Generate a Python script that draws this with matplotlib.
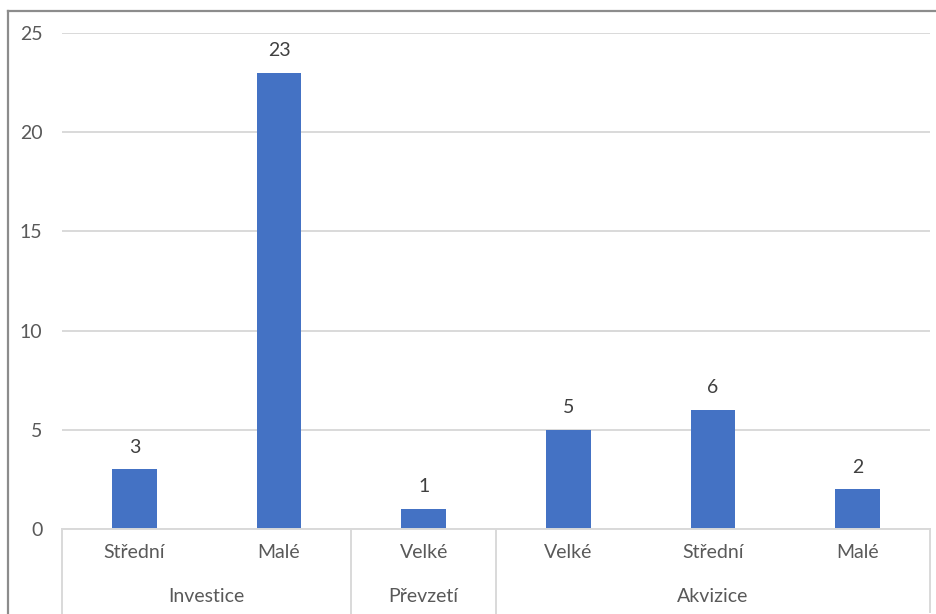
import matplotlib
matplotlib.use("Agg")
import matplotlib.pyplot as plt
import matplotlib.transforms as mtransforms
from matplotlib.lines import Line2D
import numpy as np

# Bar values, inner (size) labels and outer (group) labels
sizes = ["Střední", "Malé", "Velké", "Velké", "Střední", "Malé"]
counts = [3, 23, 1, 5, 6, 2]
groups = ["Investice", "Převzetí", "Akvizice"]
group_len = [2, 1, 3]
yticks = [0, 5, 10, 15, 20, 25]

BLUE = "#4472C4"
GRID = "#D9D9D9"
TEXT = "#595959"
LABEL = "#404040"

plt.rcParams["font.family"] = ["Lato", "DejaVu Sans"]

W, H = 937, 614
fig = plt.figure(figsize=(W / 100, H / 100), dpi=100)
fig.patch.set_facecolor("white")

left, right, top, bottom = 62, 930, 33, 529
ax = fig.add_axes([left / W, 1 - bottom / H, (right - left) / W, (bottom - top) / H])

x = np.arange(len(counts))
bars = ax.bar(x, counts, width=0.31, color=BLUE, zorder=3)

for b, v in zip(bars, counts):
    ax.annotate(str(v), (b.get_x() + b.get_width() / 2, v), xytext=(0, 16),
                textcoords="offset points", ha="center", va="center",
                fontsize=14, color=LABEL)

ax.set_xlim(-0.5, len(counts) - 0.5)
ax.set_ylim(0, 25)
ax.set_yticks(yticks)
ax.set_yticklabels([str(t) for t in yticks], fontsize=14, color=TEXT)
ax.tick_params(axis="y", length=0, pad=14)
ax.set_xticks([])
ax.grid(axis="y", color=GRID, linewidth=1.4, zorder=0)
for s in ax.spines.values():
    s.set_visible(False)

# multi-level category axis drawn below the plot area
trans = mtransforms.blended_transform_factory(ax.transData, ax.transAxes)
ax_h = bottom - top
y_low = -(H - bottom) / ax_h
ax.plot([-0.5, len(counts) - 0.5], [0, 0], transform=trans, color=GRID,
        linewidth=1.4, clip_on=False, zorder=4)

ax.plot([-0.5, -0.5], [0, y_low], transform=trans, color=GRID,
        linewidth=1.4, clip_on=False)
ax.plot([len(counts) - 0.5] * 2, [0, -(612 - bottom) / ax_h], transform=trans,
        color=GRID, linewidth=1.4, clip_on=False)

y_inner = -(553 - bottom) / ax_h
y_outer = -(597 - bottom) / ax_h
for xi, s in zip(x, sizes):
    ax.text(xi, y_inner, s, transform=trans, ha="center", va="center",
            fontsize=14, color=TEXT)

start = 0
for g, n in zip(groups, group_len):
    end = start + n
    ax.text((start + end - 1) / 2, y_outer, g, transform=trans, ha="center",
            va="center", fontsize=14, color=TEXT)
    if end < len(counts):
        ax.plot([end - 0.5] * 2, [0, y_low], transform=trans, color=GRID,
                linewidth=1.4, clip_on=False)
    start = end

# chart frame (top and left edges)
frame = dict(color="#8C8C8C", linewidth=1.6, transform=fig.transFigure)
fig.add_artist(Line2D([8.5 / W, 1], [1 - 10.5 / H] * 2, **frame))
fig.add_artist(Line2D([8.5 / W] * 2, [0, 1 - 10.5 / H], **frame))

plt.savefig("out.png", dpi=100, facecolor="white")
